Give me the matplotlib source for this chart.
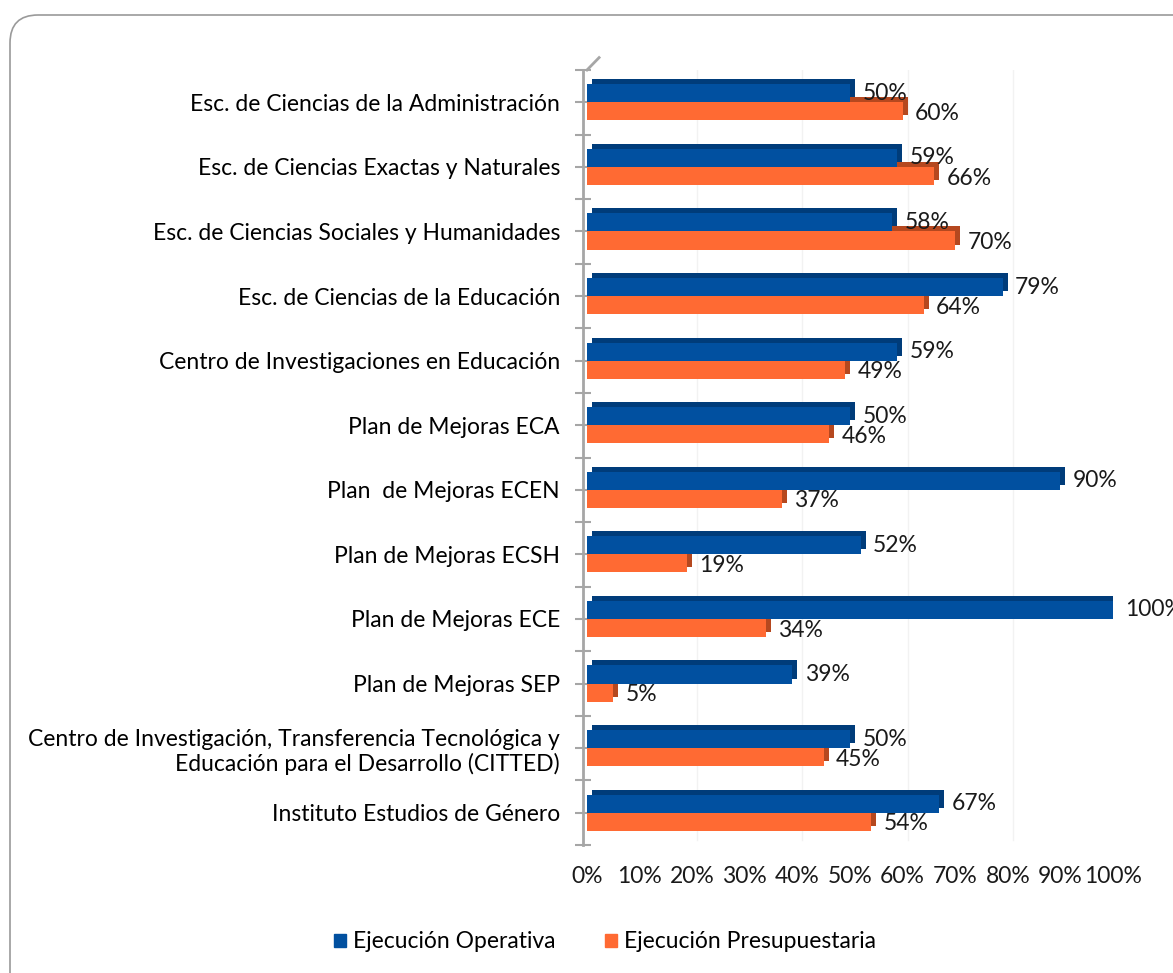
import matplotlib
matplotlib.use("Agg")
import matplotlib.pyplot as plt
from matplotlib.transforms import ScaledTranslation, IdentityTransform
from matplotlib.patches import FancyBboxPatch, Patch
from matplotlib.lines import Line2D
import numpy as np

plt.rcParams['font.family'] = ['Lato', 'DejaVu Sans']

categories = [
    "Esc. de Ciencias de la Administración",
    "Esc. de Ciencias Exactas y Naturales",
    "Esc. de Ciencias Sociales y Humanidades",
    "Esc. de Ciencias de la Educación",
    "Centro de Investigaciones en Educación",
    "Plan de Mejoras ECA",
    "Plan  de Mejoras ECEN",
    "Plan de Mejoras ECSH",
    "Plan de Mejoras ECE",
    "Plan de Mejoras SEP",
    "Centro de Investigación, Transferencia Tecnológica y\nEducación para el Desarrollo (CITTED)",
    "Instituto Estudios de Género",
]
operativa = [50, 59, 58, 79, 59, 50, 90, 52, 100, 39, 50, 67]
presupuestaria = [60, 66, 70, 64, 49, 46, 37, 19, 34, 5, 45, 54]
series_names = ["Ejecución Operativa", "Ejecución Presupuestaria"]
xticks = [0, 10, 20, 30, 40, 50, 60, 70, 80, 90, 100]

BLUE, BLUE_D = "#0150A0", "#003C7A"
ORANGE, ORANGE_D = "#FF6A33", "#B5481F"
TXT = "#1A1A1A"
FS = 16.5

fig = plt.figure(figsize=(11.73, 9.73), dpi=100)
ax = fig.add_axes([587/1173, 1-845/973, (1113-587)/1173, (845-70)/973])

y = np.arange(len(categories))
h = 0.28
dx, dy = 0.05, 0.05  # depth in inches (5px at 100dpi)
off = ax.transData + ScaledTranslation(dx, dy, fig.dpi_scale_trans)

# orange (lower half) then blue (upper half)
ax.barh(y + h/2, presupuestaria, height=h, color=ORANGE_D, transform=off, zorder=2)
ax.barh(y + h/2, presupuestaria, height=h, color=ORANGE, zorder=3)
ax.barh(y - h/2, operativa, height=h, color=BLUE_D, transform=off, zorder=4)
ax.barh(y - h/2, operativa, height=h, color=BLUE, zorder=5)

for yi, v in zip(y, operativa):
    ax.annotate(f"{v}%", (v, yi - h/2), xytext=(9, 0), textcoords="offset points",
                ha="left", va="center", fontsize=FS, color=TXT, zorder=6)
for yi, v in zip(y, presupuestaria):
    ax.annotate(f"{v}%", (v, yi + h/2), xytext=(9, -1.5), textcoords="offset points",
                ha="left", va="center", fontsize=FS, color=TXT, zorder=6)

ax.set_xlim(0, 100)
ax.set_ylim(len(categories) - 0.5, -0.5)
ax.set_xticks(xticks)
ax.set_xticklabels([f"{t}%" for t in xticks], color=TXT)
ax.tick_params(axis="x", length=0, pad=15, labelsize=FS)
ax.set_yticks(y)
ax.set_yticklabels(categories, color=TXT, multialignment="center", linespacing=1.35)
ax.set_yticks(np.arange(-0.5, len(categories), 1), minor=True)
ax.tick_params(axis="y", which="both", direction="inout", length=11, width=1.5,
               color="#A6A6A6", pad=11, labelsize=FS)

for s in ["top", "right", "bottom"]:
    ax.spines[s].set_visible(False)
ax.spines["left"].set_color("#A6A6A6")
ax.spines["left"].set_linewidth(2)
ax.spines["left"].set_position(("outward", 3))

# back-wall gridlines
gtrans = ax.get_xaxis_transform() + ScaledTranslation(dx, dy, fig.dpi_scale_trans)
for g in [20, 40, 60, 80, 100]:
    ax.add_line(Line2D([g, g], [0, 1], transform=gtrans, color="#F2F2F2", lw=1, zorder=0))
# 3D wall edge at top
ax.add_line(Line2D([0, 0.023], [1, 1.016], transform=ax.transAxes, color="#A6A6A6",
                   lw=2, clip_on=False))

handles = [Patch(color=BLUE), Patch(color=ORANGE)]
fig.legend(handles, series_names, loc="center", bbox_to_anchor=(605/1173, 1-942/973),
           ncol=2, frameon=False, fontsize=FS, handlelength=0.5, handleheight=0.5,
           handletextpad=0.3, columnspacing=2.2)

border = FancyBboxPatch((10, -40), 1250, 973 - 15 + 40, boxstyle="round,pad=0,rounding_size=28",
                        transform=IdentityTransform(), facecolor="none", edgecolor="#9A9A9A",
                        lw=1.2, zorder=-1)
fig.patches.append(border)

fig.savefig("out.png", dpi=100)
